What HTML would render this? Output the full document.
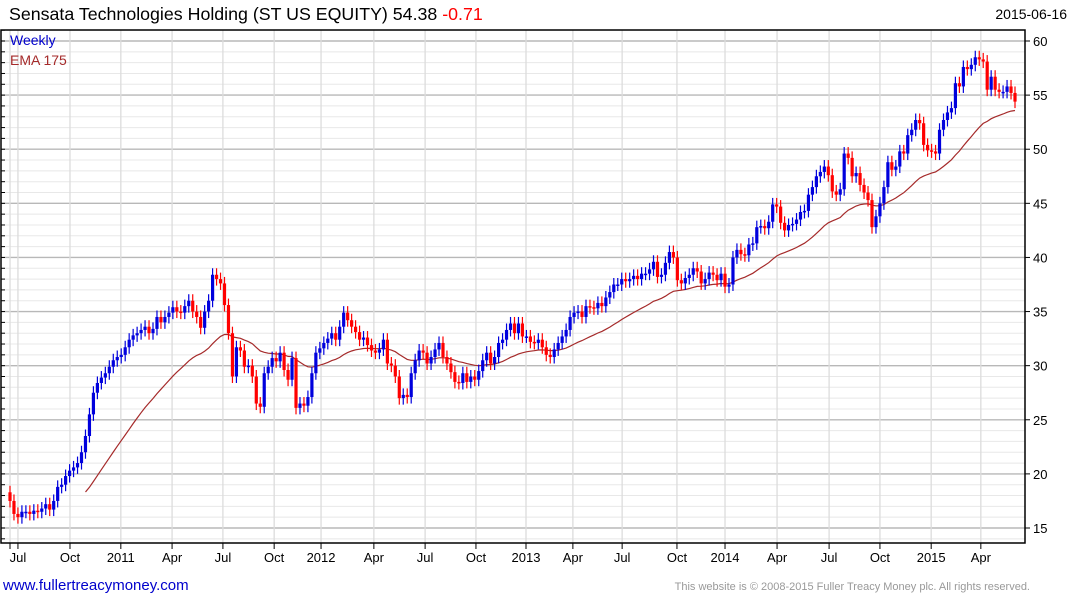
<!DOCTYPE html>
<html><head><meta charset="utf-8"><style>
body{margin:0;background:#fff;width:1075px;height:600px;overflow:hidden;font-family:"Liberation Sans",sans-serif}
svg{display:block}
</style></head><body>
<svg id="chart" width="1075" height="600" xmlns="http://www.w3.org/2000/svg">
<g id="grid"></g>
<g id="ema"></g>
<g id="candles"></g>
<g id="axes"></g>
<text x="9" y="20" font-size="17.8" fill="#000">Sensata Technologies Holding (ST US EQUITY) 54.38 <tspan fill="#f00">-0.71</tspan></text>
<text x="1067" y="19" font-size="14" text-anchor="end" fill="#000">2015-06-16</text>
<text x="10" y="45" font-size="14" fill="#0000cc">Weekly</text>
<text x="10" y="65" font-size="14" fill="#a52a2a">EMA 175</text>
<text x="3" y="590" font-size="15" fill="#0000cc">www.fullertreacymoney.com</text>
<text x="1030" y="590" font-size="11" text-anchor="end" fill="#999">This website is © 2008-2015 Fuller Treacy Money plc. All rights reserved.</text>
</svg>
<script>
const closes=[17.5,16.3,16.0,16.5,16.5,16.3,16.6,16.5,16.8,17.2,16.7,17.5,18.8,19.0,19.8,
20.3,20.6,21.0,22.0,23.5,25.5,27.5,28.4,28.9,29.3,29.9,30.5,30.8,31.0,31.7,32.4,32.8,33.0,33.3,33.6,33.0,33.4,34.5,34.0,34.5,34.9,35.4,35.0,34.9,35.5,36.0,35.0,34.5,33.5,35.0,36.0,38.4,38.0,37.6,35.6,33.0,29.0,31.7,31.4,29.9,30.0,29.0,26.5,26.2,29.3,29.9,30.7,30.4,31.2,29.6,28.7,30.7,26.1,26.5,26.3,27.1,29.3,31.2,31.6,32.1,32.5,33.0,32.4,33.6,34.9,34.2,33.6,33.1,32.4,32.6,31.9,31.4,31.2,31.5,32.4,30.2,30.0,29.0,27.0,27.3,27.1,29.3,30.5,31.4,31.2,30.2,30.8,31.5,32.1,30.8,30.2,29.4,28.5,28.4,29.3,28.5,29.0,28.7,29.5,30.5,31.2,30.2,30.8,32.1,32.4,33.3,33.9,33.0,33.9,32.7,32.7,32.2,32.1,32.4,31.7,31.0,30.8,31.5,32.1,32.7,33.3,34.5,34.9,35.0,34.5,35.5,35.4,35.3,35.8,35.5,36.3,36.8,37.5,37.5,38.0,37.8,38.0,38.3,38.0,38.5,38.5,38.9,39.6,38.2,38.4,39.5,40.5,
40.0,37.9,37.6,38.1,38.4,39.0,38.7,37.6,38.0,38.6,38.4,37.9,38.5,37.3,37.5,40.0,40.7,40.3,40.2,41.2,41.3,42.8,42.9,42.7,43.3,44.9,44.7,43.2,42.5,43.0,43.1,43.5,44.2,44.3,45.8,46.5,47.5,47.9,48.4,47.6,46.1,45.8,46.3,49.6,49.2,47.5,47.8,46.7,46.0,45.3,42.8,43.8,45.0,46.5,48.8,48.1,48.4,49.8,49.6,51.3,51.8,52.7,52.4,50.4,49.9,49.8,49.6,51.8,52.7,53.4,53.8,56.1,55.8,57.6,57.4,57.8,58.5,58.3,58.1,55.5,56.7,55.5,55.3,55.3,55.8,55.2,54.4];
const yTicks=[15,20,25,30,35,40,45,50,55,60];
const xLabels=["Jul","Oct","2011","Apr","Jul","Oct","2012","Apr","Jul","Oct","2013","Apr","Jul","Oct","2014","Apr","Jul","Oct","2015","Apr"];
const xLabelWeeks=[2.0,15.1,27.9,40.8,53.6,66.5,78.3,91.6,104.5,117.3,129.9,141.7,154.1,167.9,180,193.1,206.2,219,231.9,244.4];
const emaStart=19;
const emaPeriod=32;

const NS="http://www.w3.org/2000/svg";
const L=1,R=1025,T=30,B=543;
const X0=10,X1=1015;
function xs(i){return X0+(X1-X0)*i/(closes.length-1);}
function ys(v){return 528-(v-15)*(487/45);}
function mk(tag,attrs,parent){const e=document.createElementNS(NS,tag);for(const k in attrs)e.setAttribute(k,attrs[k]);parent.appendChild(e);return e;}
const grid=document.getElementById('grid'),axes=document.getElementById('axes'),cg=document.getElementById('candles'),eg=document.getElementById('ema');
for(let v=14;v<=61;v++){const y=ys(v);if(y<T||y>B)continue;
 const major=v%5===0;
 const l=mk('line',{x1:L,x2:R,y1:y,y2:y,stroke:major?'#b8b8b8':'#e8e8e8','stroke-width':major?1.4:1},grid);
 
 
 const t=mk('line',{x1:L,x2:L+4,y1:y,y2:y,stroke:'#000'},axes);
 
 
}
const vx=[X0].concat(xLabelWeeks.map(xs));
vx.forEach(x=>{const l=mk('line',{x1:x,x2:x,y1:T,y2:B,stroke:'#dcdcdc','stroke-width':1.3},grid);
 
 });
const fr=mk('rect',{x:L,y:T,width:R-L,height:B-T,fill:'none',stroke:'#000','stroke-width':1.5},axes);


yTicks.forEach(v=>{const y=ys(v);
 const t=mk('line',{x1:R,x2:R+5,y1:y,y2:y,stroke:'#000'},axes);
 
 
 const tx=mk('text',{x:R+8,y:y+5,'font-size':13,fill:'#000'},axes);tx.textContent=v;
 
 });
xLabels.forEach((s,k)=>{const x=xs(xLabelWeeks[k]);
 const t=mk('line',{x1:x,x2:x,y1:B,y2:B+6,stroke:'#000'},axes);
 
 
 const tx=mk('text',{x:x,y:B+19,'font-size':13,'text-anchor':'middle',fill:'#000'},axes);tx.textContent=s;
 
 });
{const t=mk('line',{x1:X0,x2:X0,y1:B,y2:B+6,stroke:'#000'},axes);
 
 }
let seed=0;for(let i=0;i<emaStart;i++)seed+=closes[i];seed/=emaStart;
let e=seed,pts=[];const a=2/(emaPeriod+1);
for(let i=emaStart;i<closes.length;i++){e=a*closes[i]+(1-a)*e;pts.push(xs(i).toFixed(1)+','+ys(e).toFixed(1));}
const pl=mk('polyline',{points:pts.join(' '),fill:'none',stroke:'#a52a2a','stroke-width':1.2},eg);


for(let i=0;i<closes.length;i++){
 const o=i>0?closes[i-1]:closes[i]+0.8,c=closes[i];
 const col=c>=o?'#0000dd':'#ff0000';
 const hi=Math.max(o,c)+0.6,lo=Math.min(o,c)-0.6;const x=xs(i);
 const w=mk('line',{x1:x,x2:x,y1:ys(hi),y2:ys(lo),stroke:col,'stroke-width':1.2},cg);
 
 
 const top=ys(Math.max(o,c)),h=Math.max(1.5,ys(Math.min(o,c))-top);
 const r=mk('rect',{x:x-1.6,y:top,width:3.2,height:h,fill:col},cg);
 
 
}
</script>
</body></html>
